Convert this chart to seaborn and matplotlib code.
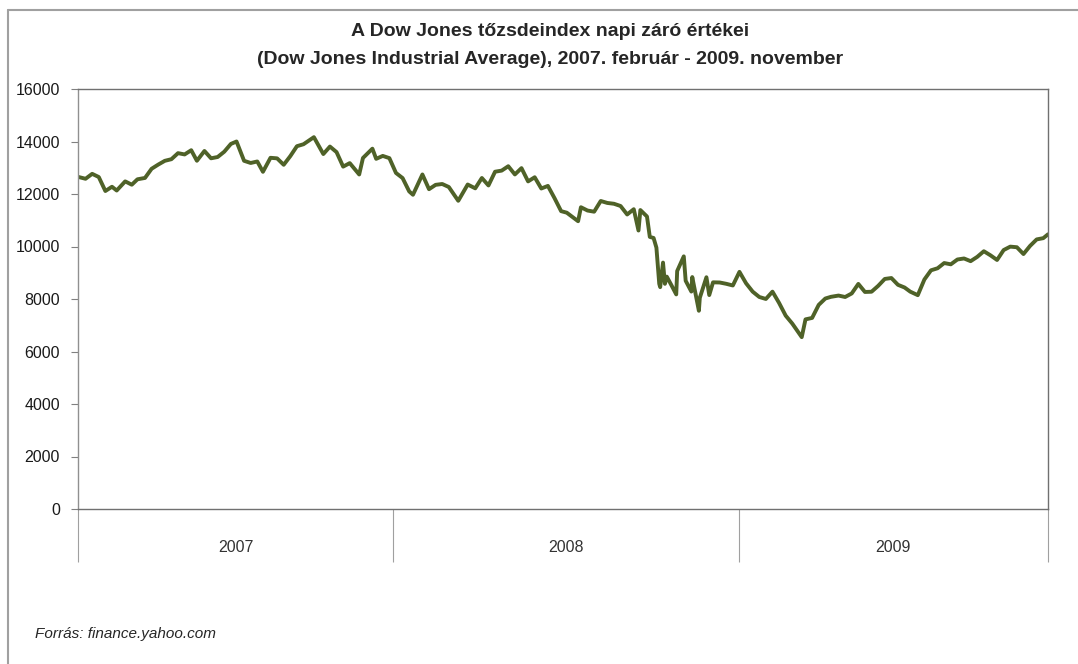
import matplotlib
matplotlib.use("Agg")
import matplotlib.pyplot as plt
import matplotlib.dates as mdates
from matplotlib.lines import Line2D
import pandas as pd
import seaborn as sns

# weekly (and some daily) closing values
dates = [
    "2007-02-01", "2007-02-09", "2007-02-16", "2007-02-23", "2007-03-02", "2007-03-09",
    "2007-03-14", "2007-03-23", "2007-03-30", "2007-04-05", "2007-04-13", "2007-04-20",
    "2007-04-27", "2007-05-04", "2007-05-11", "2007-05-18", "2007-05-25", "2007-06-01",
    "2007-06-07", "2007-06-15", "2007-06-22", "2007-06-29", "2007-07-06", "2007-07-13",
    "2007-07-19", "2007-07-27", "2007-08-03", "2007-08-10", "2007-08-16", "2007-08-24",
    "2007-08-31", "2007-09-07", "2007-09-14", "2007-09-21", "2007-09-28", "2007-10-05",
    "2007-10-09", "2007-10-19", "2007-10-26", "2007-11-02", "2007-11-09", "2007-11-16",
    "2007-11-26", "2007-11-30", "2007-12-10", "2007-12-14", "2007-12-21", "2007-12-28",
    "2008-01-04", "2008-01-11", "2008-01-18", "2008-01-22", "2008-02-01", "2008-02-08",
    "2008-02-15", "2008-02-22", "2008-02-29", "2008-03-07", "2008-03-10", "2008-03-20",
    "2008-03-28", "2008-04-04", "2008-04-11", "2008-04-18", "2008-04-25", "2008-05-02",
    "2008-05-09", "2008-05-16", "2008-05-23", "2008-05-30", "2008-06-06", "2008-06-13",
    "2008-06-20", "2008-06-27", "2008-07-03", "2008-07-15", "2008-07-18", "2008-07-25",
    "2008-08-01", "2008-08-08", "2008-08-15", "2008-08-22", "2008-08-29", "2008-09-05",
    "2008-09-12", "2008-09-17", "2008-09-19", "2008-09-26", "2008-09-29", "2008-10-03",
    "2008-10-06", "2008-10-09", "2008-10-10", "2008-10-13", "2008-10-15", "2008-10-17",
    "2008-10-22", "2008-10-27", "2008-10-28", "2008-11-04", "2008-11-06", "2008-11-12",
    "2008-11-13", "2008-11-20", "2008-11-21", "2008-11-28", "2008-12-01", "2008-12-05",
    "2008-12-12", "2008-12-19", "2008-12-26",
    "2009-01-02", "2009-01-09", "2009-01-16", "2009-01-23", "2009-01-30", "2009-02-06",
    "2009-02-13", "2009-02-20", "2009-02-27", "2009-03-09", "2009-03-13", "2009-03-20",
    "2009-03-27", "2009-04-03", "2009-04-09", "2009-04-17", "2009-04-24", "2009-05-01",
    "2009-05-08", "2009-05-15", "2009-05-22", "2009-05-29", "2009-06-05", "2009-06-12",
    "2009-06-19", "2009-06-26", "2009-07-02", "2009-07-10", "2009-07-17", "2009-07-24",
    "2009-07-31", "2009-08-07", "2009-08-14", "2009-08-21", "2009-08-28", "2009-09-04",
    "2009-09-11", "2009-09-18", "2009-09-25", "2009-10-02", "2009-10-09", "2009-10-16",
    "2009-10-23", "2009-10-30", "2009-11-06", "2009-11-13", "2009-11-20", "2009-11-25",
]
closes = [
    12653, 12580, 12768, 12647, 12114, 12276,
    12133, 12481, 12354, 12560, 12612, 12961,
    13120, 13264, 13326, 13556, 13507, 13668,
    13266, 13639, 13360, 13409, 13611, 13907,
    14000, 13265, 13182, 13239, 12846, 13379,
    13358, 13113, 13443, 13821, 13896, 14066,
    14165, 13522, 13807, 13596, 13043, 13177,
    12744, 13372, 13727, 13340, 13451, 13366,
    12801, 12607, 12099, 11971, 12744, 12183,
    12349, 12381, 12266, 11894, 11741, 12361,
    12216, 12610, 12325, 12849, 12891, 13058,
    12745, 12986, 12480, 12638, 12210, 12308,
    11843, 11347, 11288, 10963, 11496, 11370,
    11326, 11734, 11659, 11628, 11543, 11220,
    11421, 10609, 11388, 11143, 10365, 10325,
    9955, 8579, 8451, 9387, 8578, 8852,
    8519, 8175, 9065, 9625, 8695, 8283,
    8835, 7552, 8046, 8829, 8149, 8635,
    8629, 8579, 8515,
    9034, 8599, 8281, 8077, 8001, 8280,
    7850, 7366, 7063, 6547, 7224, 7279,
    7776, 8018, 8083, 8131, 8076, 8212,
    8575, 8268, 8277, 8500, 8764, 8799,
    8540, 8438, 8280, 8146, 8743, 9093,
    9171, 9370, 9321, 9505, 9544, 9441,
    9605, 9820, 9665, 9487, 9865, 9995,
    9972, 9713, 10023, 10270, 10318, 10464,
]
years = ["2007", "2008", "2009"]
y_ticks = [0, 2000, 4000, 6000, 8000, 10000, 12000, 14000, 16000]

df = pd.DataFrame({"date": pd.to_datetime(dates), "close": closes})

sns.set_style("white")
plt.rcParams["font.family"] = ["Liberation Sans", "DejaVu Sans"]

fig = plt.figure(figsize=(10.78, 6.64), dpi=100)
ax = fig.add_axes([78 / 1078, 1 - 509 / 664, 970 / 1078, 420 / 664])

sns.lineplot(data=df, x="date", y="close", ax=ax, color="#4F6228", linewidth=2.8)

start = pd.Timestamp("2007-02-01")
end = pd.Timestamp("2009-11-25")
ax.set_xlim(start, end)
ax.set_ylim(0, 16000)
ax.set_yticks(y_ticks)
ax.set_yticklabels([str(v) for v in y_ticks], fontsize=11.5, color="#1a1a1a")
ax.tick_params(axis="y", length=5, color="#808080", pad=8, left=True)

# year separators and centered year labels
bounds = [start, pd.Timestamp("2008-01-01"), pd.Timestamp("2009-01-01"), end]
ax.set_xticks([mdates.date2num(b) for b in bounds])
ax.set_xticklabels([])
ax.tick_params(axis="x", which="major", length=38, color="#a0a0a0", bottom=True)
mids = [mdates.date2num(bounds[i]) + (mdates.date2num(bounds[i + 1]) - mdates.date2num(bounds[i])) / 2
        for i in range(3)]
ax.set_xticks(mids, minor=True)
ax.set_xticklabels(years, minor=True, fontsize=11.5, color="#333333")
ax.tick_params(axis="x", which="minor", length=0, pad=22)
ax.set_xlabel("")
ax.set_ylabel("")

for side in ["top", "right", "left", "bottom"]:
    ax.spines[side].set_visible(True)
    ax.spines[side].set_color("#707070")
    ax.spines[side].set_linewidth(1)
ax.spines["left"].set_color("#909090")

fig.text(0.51, 0.952, "A Dow Jones tőzsdeindex napi záró értékei",
         ha="center", va="center", fontsize=14, fontweight="bold")
fig.text(0.51, 0.911, "(Dow Jones Industrial Average), 2007. február - 2009. november",
         ha="center", va="center", fontsize=14, fontweight="bold")
fig.text(35 / 1078, 1 - 634 / 664, "Forrás: finance.yahoo.com",
         ha="left", va="center", fontsize=11, style="italic")

# outer chart border (top and left, as in the source)
fig.add_artist(Line2D([8 / 1078, 1], [1 - 10 / 664, 1 - 10 / 664], color="#a0a0a0", linewidth=1.5))
fig.add_artist(Line2D([8 / 1078, 8 / 1078], [0, 1 - 10 / 664], color="#a0a0a0", linewidth=1.5))

plt.savefig("out.png", dpi=100)
